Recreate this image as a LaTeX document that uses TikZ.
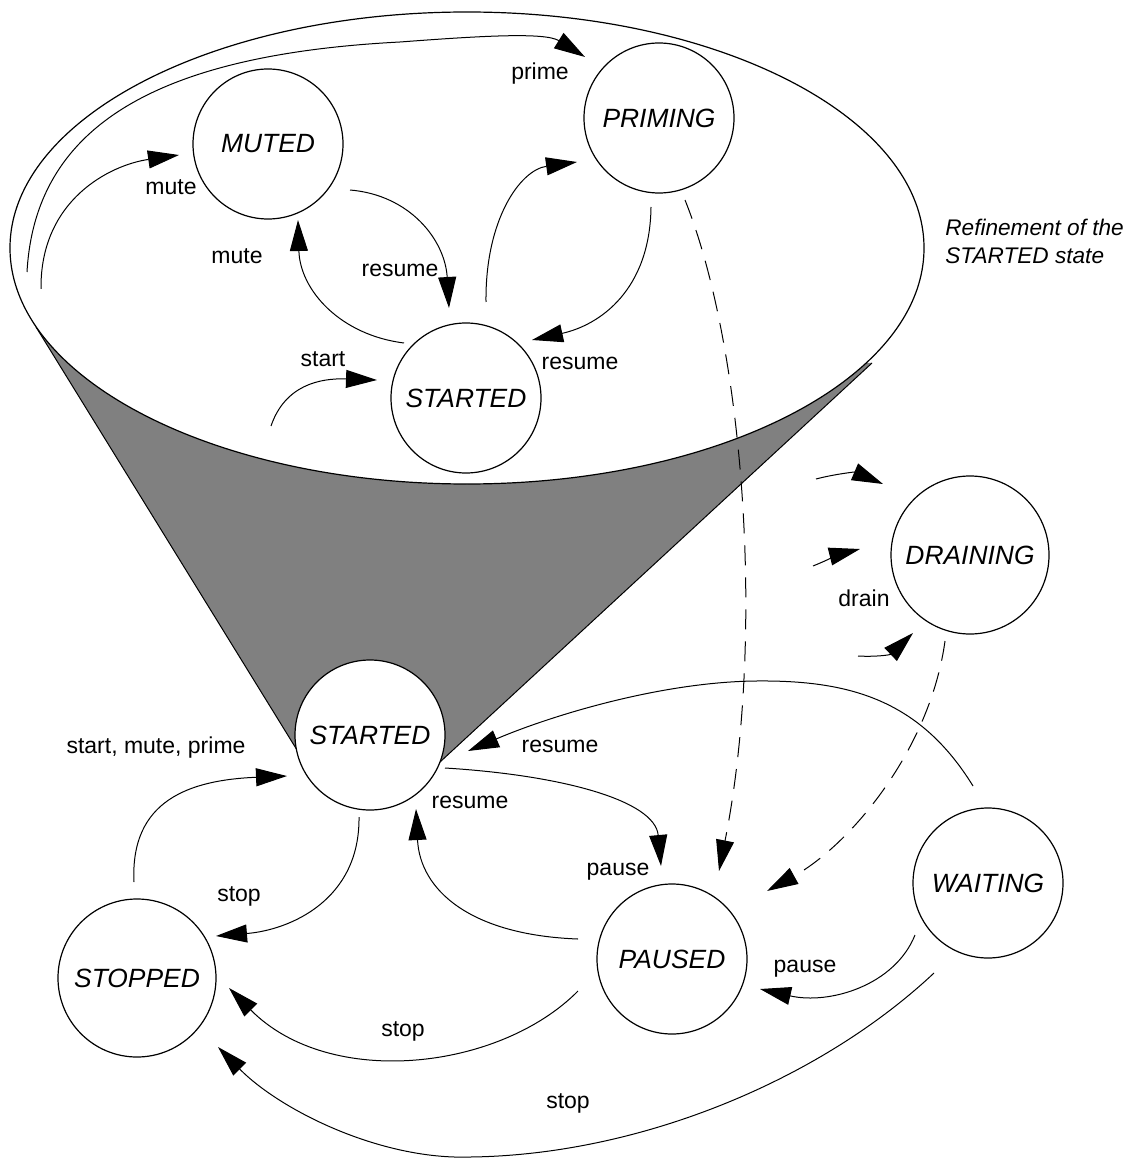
\documentclass[tikz,border=0pt]{standalone}
\usepackage{fontspec}
\setmainfont{Liberation Sans}
\usetikzlibrary{arrows.meta,calc}
\begin{document}
\begin{tikzpicture}[x=0.5pt,y=-0.5pt,
  state/.style={circle,draw,line width=0.6pt,fill=white,inner sep=0pt,
    minimum size=75pt,font=\fontsize{13.2}{15}\selectfont\itshape},
  bigstate/.style={state,minimum size=79pt},
  lbl/.style={inner sep=0pt,font=\fontsize{11.5}{13}\selectfont},
  note/.style={inner sep=0pt,align=left,anchor=west,
    font=\fontsize{11.3}{14}\selectfont\itshape},
  trans/.style={line width=0.5pt,-{Triangle[length=15.5pt,width=9pt]}},
  dtrans/.style={trans,dash pattern=on 10pt off 6pt},
  cone/.style={fill=gray},
  coneedge/.style={line width=0.5pt},
  refine/.style={draw,fill=white,line width=0.6pt},
]
\useasboundingbox (0,0) rectangle (1129,1160);

% the grey cone that opens from the STARTED state into its refinement
\coordinate (coneL) at (36,327);
\coordinate (coneR) at (872,363);
\coordinate (tanL) at (297,750);
\coordinate (tanR) at (440,762);
\fill[cone] (coneL) -- (tanL) -- (370,735) -- (tanR) -- (coneR) -- cycle;
\draw[coneedge] (coneL) -- (tanL) (tanR) -- (coneR);

% the refinement bubble
\draw[refine] (467,248) ellipse [x radius=457, y radius=236];

% states inside the refinement
\node[state] (muted)   at (268,144) {MUTED};
\node[state] (priming) at (659,118) {PRIMING};
\node[state] (startin) at (466,398) {STARTED};

% top-level states
\node[state]    (started)  at (370,735) {STARTED};
\node[bigstate] (draining) at (970,555) {DRAINING};
\node[state]    (paused)   at (672,959) {PAUSED};
\node[state]    (waiting)  at (988,883) {WAITING};
\node[bigstate] (stopped)  at (137,978) {STOPPED};

% free ends of the entry transitions
\coordinate (primeSrc)   at (27,272);
\coordinate (muteSrc)    at (41,289);
\coordinate (startSrc)   at (271,426);
\coordinate (drainSrcA)  at (816,479);
\coordinate (drainSrcB)  at (813,566);
\coordinate (drainSrcC)  at (858,656);

% transitions inside the refinement
\draw[trans] (primeSrc) .. controls (35,130) and (150,55) .. (400,42)
  .. controls (480,36) and (545,32) .. ($(priming)+(-74,-61)$);
\draw[trans] (muteSrc) .. controls (40,200) and (110,165) .. ($(muted)+(-89,11)$);
\draw[trans] ($(muted)+(82,46)$) .. controls (410,195) and (445,240) .. ($(startin)+(-17,-90)$);
\draw[trans] ($(startin)+(-62,-55)$) .. controls (340,335) and (300,290) .. ($(muted)+(30,76)$);
\draw[trans] (startSrc) .. controls (285,385) and (320,378) .. ($(startin)+(-89,-18)$);
\draw[trans] ($(startin)+(20,-96)$) .. controls (485,220) and (520,170) .. ($(priming)+(-82,44)$);
\draw[trans] ($(priming)+(-8,89)$) .. controls (650,290) and (600,325) .. ($(startin)+(66,-58)$);

% dashed transitions into PAUSED
\draw[dtrans] ($(priming)+(26,82)$) .. controls (745,350) and (765,640) .. ($(paused)+(47,-88)$);
\draw[dtrans] ($(draining)+(-25,86)$) .. controls (930,750) and (850,845) .. ($(paused)+(95,-68)$);

% drain entries
\draw[trans] (drainSrcA) .. controls (835,474) and (855,472) .. ($(draining)+(-87,-71)$);
\draw[trans] (drainSrcB) .. controls (830,559) and (840,554) .. ($(draining)+(-110,-6)$);
\draw[trans] (drainSrcC) .. controls (875,657) and (890,655) .. ($(draining)+(-57,78)$);

% top-level transitions
\draw[trans] ($(waiting)+(-15,-97)$) .. controls (920,700) and (850,680) .. (756,681)
  .. controls (660,682) and (550,716) .. ($(started)+(98,16)$);
\draw[trans] ($(started)+(75,33)$) .. controls (560,775) and (655,800) .. ($(paused)+(-11,-93)$);
\draw[trans] ($(waiting)+(-73,52)$) .. controls (895,985) and (830,1005) .. ($(paused)+(88,30)$);
\draw[trans] ($(paused)+(-94,-20)$) .. controls (470,935) and (420,890) .. ($(started)+(46,74)$);
\draw[trans] ($(started)+(-11,82)$) .. controls (360,900) and (290,930) .. ($(stopped)+(79,-42)$);
\draw[trans] ($(stopped)+(-3,-96)$) .. controls (130,800) and (190,780) .. ($(started)+(-83,41)$);
\draw[trans] ($(paused)+(-94,32)$) .. controls (500,1070) and (330,1090) .. ($(stopped)+(92,10)$);
\draw[trans] ($(waiting)+(-54,90)$) .. controls (820,1080) and (640,1155) .. (470,1157)
  .. controls (380,1160) and (280,1110) .. ($(stopped)+(81,69)$);

% transition labels
\node[lbl] (lPrime)    at (540,74)   {prime};
\node[lbl] (lMuteA)    at (171,187)  {mute};
\node[lbl] (lMuteB)    at (237,256)  {mute};
\node[lbl] (lResumeA)  at (400,270)  {resume};
\node[lbl] (lStart)    at (323,359)  {start};
\node[lbl] (lResumeB)  at (580,363)  {resume};
\node[lbl] (lDrain)    at (864,598)  {drain};
\node[lbl] (lResumeC)  at (560,746)  {resume};
\node[lbl] (lRestart)  at (156,748)  {start, mute, prime};
\node[lbl] (lResumeD)  at (470,802)  {resume};
\node[lbl] (lPauseA)   at (618,872)  {pause};
\node[lbl] (lStopA)    at (239,896)  {stop};
\node[lbl] (lPauseB)   at (805,969)  {pause};
\node[lbl] (lStopB)    at (403,1031) {stop};
\node[lbl] (lStopC)    at (568,1103) {stop};

\node[note] (refnote) at (945,241) {Refinement of the\\STARTED state};
\end{tikzpicture}
\end{document}
